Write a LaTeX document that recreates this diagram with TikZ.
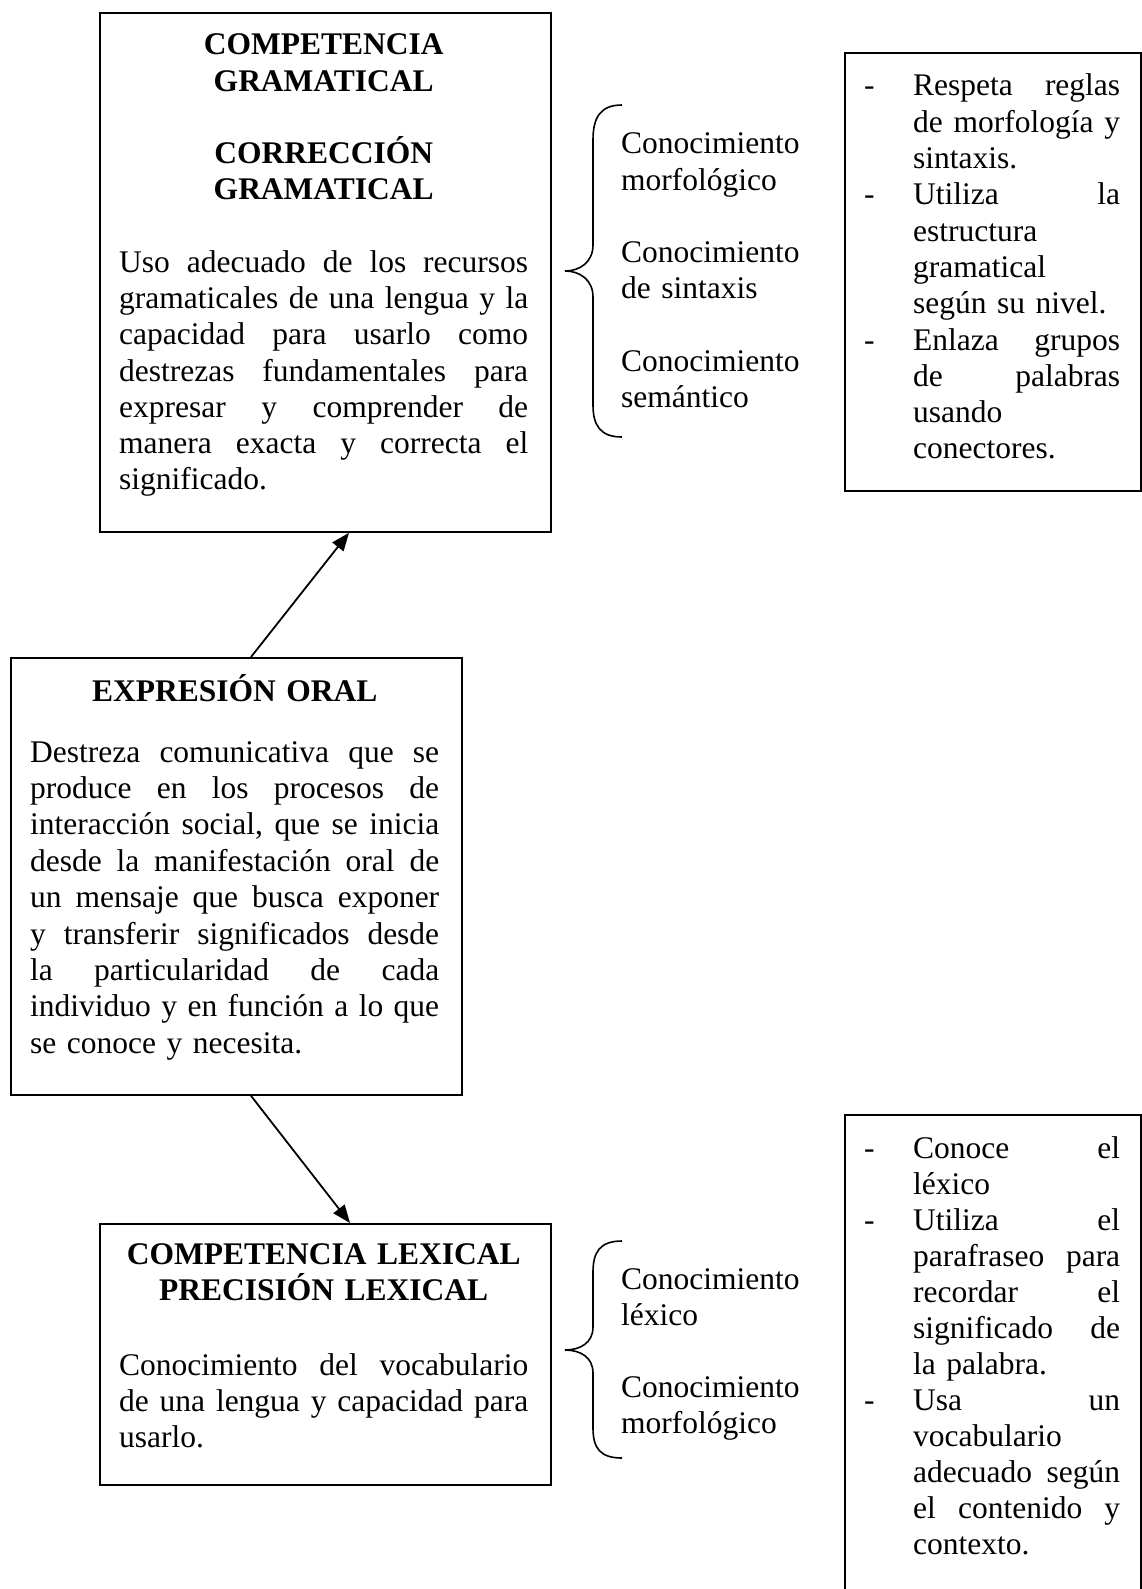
\documentclass[tikz,border=0pt]{standalone}
\usepackage{fontspec}
\setmainfont{Liberation Serif}
\usetikzlibrary{arrows.meta,calc}
\setlength{\lineskiplimit}{-30pt}
\newcommand{\jl}[1]{{\frenchspacing\spaceskip=.25em plus 1fil minus .05em\relax\makebox[\linewidth][s]{#1}}\par}
\newcommand{\lline}[1]{\makebox[\linewidth][l]{#1}\par}
\newcommand{\hdline}[1]{\makebox[\linewidth][c]{\bfseries #1}\par}
\newcommand{\myblank}{\mbox{}\par}
\begin{document}
\begin{tikzpicture}[x=1pt,y=-1pt,
  box/.style={draw, line width=1.8pt, inner sep=0pt, anchor=north west},
  txt/.style={inner sep=0pt, anchor=base west, font=\fontsize{31.5}{36}\selectfont},
  brace/.style={draw, line width=1.6pt},
  arr/.style={line width=1.8pt, -{Triangle[length=18pt,width=14pt]}}]
\useasboundingbox (0,0) rectangle (1141,1589);

% boxes
\node[box, minimum width=451pt, minimum height=519pt] (gram) at (99,12) {};
\node[box, minimum width=451pt, minimum height=437pt] (expr) at (10,657) {};
\node[box, minimum width=451pt, minimum height=261pt] (lex) at (99,1223) {};
\node[box, minimum width=296pt, minimum height=438pt] (rb1) at (844,52) {};
\node[box, minimum width=296pt, minimum height=520pt] (rb2) at (844,1114) {};

% top box text
\node[txt, text width=409pt, font=\fontsize{31.5}{36.25}\selectfont] (gramtxt) at (119,55) {%
\hdline{COMPETENCIA}
\hdline{GRAMATICAL}
\myblank
\hdline{CORRECCIÓN}
\hdline{GRAMATICAL}
\myblank
\jl{Uso adecuado de los recursos}
\jl{gramaticales de una lengua y la}
\jl{capacidad para usarlo como}
\jl{destrezas fundamentales para}
\jl{expresar y comprender de}
\jl{manera exacta y correcta el}
\lline{significado.}};

% expresion oral text
\node[txt, text width=409pt] (exprtitle) at (30,701) {\hdline{EXPRESIÓN ORAL}};
\node[txt, text width=409pt, font=\fontsize{31.5}{36.4}\selectfont] (exprtxt) at (30,762) {%
\jl{Destreza comunicativa que se}
\jl{produce en los procesos de}
\jl{interacción social, que se inicia}
\jl{desde la manifestación oral de}
\jl{un mensaje que busca exponer}
\jl{y transferir significados desde}
\jl{la particularidad de cada}
\jl{individuo y en función a lo que}
\lline{se conoce y necesita.}};

% lexical text
\node[txt, text width=409pt, font=\fontsize{31.5}{36}\selectfont] (lextitle) at (119,1264) {%
\hdline{COMPETENCIA LEXICAL}
\hdline{PRECISIÓN LEXICAL}};
\node[txt, text width=409pt] (lextxt) at (119,1375) {%
\jl{Conocimiento del vocabulario}
\jl{de una lengua y capacidad para}
\lline{usarlo.}};

% braces
\draw[brace] (622,105) .. controls (600,105) and (593,118) .. (593,140) -- (593,245)
  .. controls (593,262) and (580,271) .. (565,271)
  .. controls (580,271) and (593,280) .. (593,297) -- (593,405)
  .. controls (593,425) and (600,437) .. (622,437);
\draw[brace] (622,1241) .. controls (600,1241) and (593,1252) .. (593,1272) -- (593,1327)
  .. controls (593,1343) and (580,1350) .. (565,1350)
  .. controls (580,1350) and (593,1357) .. (593,1373) -- (593,1428)
  .. controls (593,1448) and (600,1458) .. (622,1458);

% brace labels
\node[txt, text width=200pt, font=\fontsize{31.5}{36.2}\selectfont] (b1txt) at (621,154) {%
\lline{Conocimiento}
\lline{morfológico}
\myblank
\lline{Conocimiento}
\lline{de sintaxis}
\myblank
\lline{Conocimiento}
\lline{semántico}};
\node[txt, text width=200pt] (b2txt) at (621,1289) {%
\lline{Conocimiento}
\lline{léxico}
\myblank
\lline{Conocimiento}
\lline{morfológico}};

% right box 1
\node[txt, text width=207pt, font=\fontsize{31.5}{36.3}\selectfont] (rb1txt) at (913,96) {%
\jl{Respeta reglas}
\jl{de morfología y}
\lline{sintaxis.}
\jl{Utiliza la}
\lline{estructura}
\lline{gramatical}
\lline{según su nivel.}
\jl{Enlaza grupos}
\jl{de palabras}
\lline{usando}
\lline{conectores.}};
\node[txt] (d11) at (864,96) {-};
\node[txt] (d12) at (864,204.9) {-};
\node[txt] (d13) at (864,350.1) {-};

% right box 2
\node[txt, text width=207pt] (rb2txt) at (913,1158) {%
\jl{Conoce el}
\lline{léxico}
\jl{Utiliza el}
\jl{parafraseo para}
\jl{recordar el}
\jl{significado de}
\lline{la palabra.}
\jl{Usa un}
\lline{vocabulario}
\jl{adecuado según}
\jl{el contenido y}
\lline{contexto.}};
\node[txt] (d21) at (864,1158) {-};
\node[txt] (d22) at (864,1230) {-};
\node[txt] (d23) at (864,1410) {-};

% arrows
\draw[arr] ($(expr.north west)+(241,0)$) -- ($(gram.south west)+(250,0)$);
\draw[arr] ($(expr.south west)+(241,0)$) -- ($(lex.north west)+(251,0)$);
\end{tikzpicture}
\end{document}
